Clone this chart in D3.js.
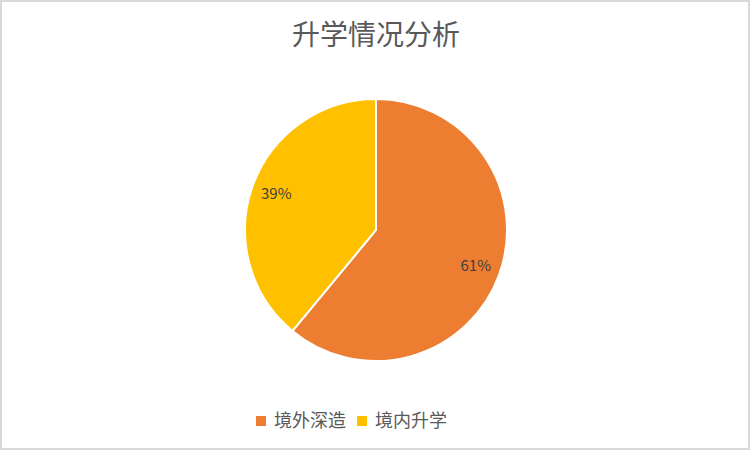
<!DOCTYPE html>
<html>
<head>
<meta charset="utf-8">
<script src="https://cdn.jsdelivr.net/npm/d3@7"></script>
<style>
  body { margin: 0; background: #fff; }
  text { font-family: "Noto Sans CJK SC", "Noto Sans", sans-serif; }
</style>
</head>
<body>
<svg id="chart" width="752" height="452"></svg>
<script>
// data
const categories = ["境外深造", "境内升学"];
const shares = [61, 39];
const colours = ["#ED7D31", "#FFC000"];
const title = "升学情况分析";

const svg = d3.select("#chart");
const W = 752, H = 452;

// frame
svg.append("rect")
    .attr("x", 1).attr("y", 1)
    .attr("width", 748).attr("height", 448)
    .attr("fill", "#fff")
    .attr("stroke", "#d9d9d9")
    .attr("stroke-width", 2);

svg.append("text")
    .attr("x", 376).attr("y", 45)
    .attr("text-anchor", "middle")
    .attr("font-size", 28)
    .attr("fill", "#595959")
    .text(title);

const cx = 376, cy = 230, r = 131;
const pie = d3.pie().sort(null)(shares);
const arc = d3.arc().innerRadius(0).outerRadius(r);
const labelArc = d3.arc().innerRadius(106).outerRadius(106);
const colour = d3.scaleOrdinal().domain(categories).range(colours);

const g = svg.append("g").attr("transform", `translate(${cx},${cy})`);

g.selectAll("path")
    .data(pie)
    .enter()
    .append("path")
    .attr("d", arc)
    .attr("fill", (d, i) => colour(categories[i]))
    .attr("stroke", "#fff")
    .attr("stroke-width", 2);

g.selectAll("text.lbl")
    .data(pie)
    .enter()
    .append("text")
    .attr("class", "lbl")
    .attr("transform", d => `translate(${labelArc.centroid(d)})`)
    .attr("text-anchor", "middle")
    .attr("dy", "0.35em")
    .attr("font-size", 15)
    .attr("fill", "#404040")
    .text(d => d.data + "%");

// legend
const legend = svg.append("g").attr("transform", "translate(256,421)");
const items = legend.selectAll("g")
    .data(categories)
    .enter()
    .append("g")
    .attr("transform", (d, i) => `translate(${i * 101},0)`);

items.append("rect")
    .attr("x", 0).attr("y", -5)
    .attr("width", 10).attr("height", 10)
    .attr("fill", d => colour(d));

items.append("text")
    .attr("x", 18).attr("y", 0)
    .attr("dy", "0.35em")
    .attr("font-size", 18)
    .attr("fill", "#595959")
    .text(d => d);
</script>
</body>
</html>
